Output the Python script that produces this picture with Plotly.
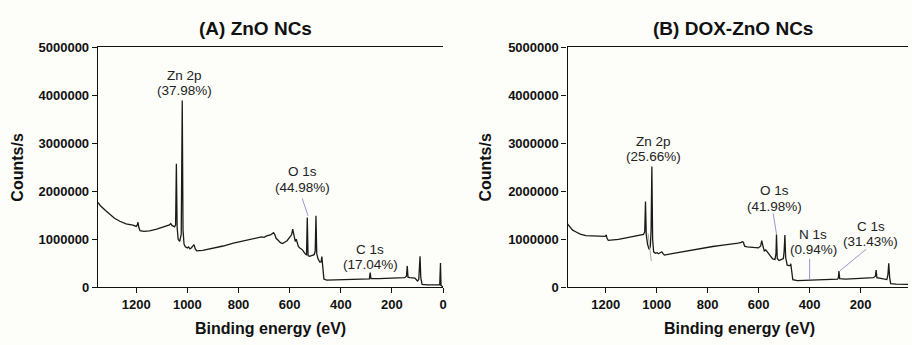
import plotly.graph_objects as go

# ---------------- data ----------------
zno_be = [1350, 1340, 1320, 1303, 1285, 1264, 1240, 1213, 1200, 1196, 1193, 1190, 1185, 1170,
          1148, 1120, 1083, 1070, 1065, 1060, 1050, 1046, 1043, 1040, 1036, 1030, 1024, 1020,
          1017, 1013, 1008, 1000, 995, 990, 985, 978, 974, 969, 963, 940, 900, 860, 820, 780,
          740, 720, 710, 700, 690, 675, 668, 663, 658, 653, 645, 636, 628, 620, 610, 600, 592,
          588, 584, 578, 574, 571, 566, 560, 550, 540, 534, 531, 528, 522, 510, 504, 500, 497,
          494, 489, 482, 477, 474, 471, 466, 455, 420, 380, 340, 300, 288, 285, 282, 250, 210,
          182, 163, 150, 143, 140, 137, 130, 110, 100, 95, 92, 90, 87, 82, 60, 40, 20, 13, 10,
          8, 4, 0]
zno_counts = [1.77e6, 1.70e6, 1.60e6, 1.52e6, 1.44e6, 1.376e6, 1.32e6, 1.296e6, 1.27e6, 1.30e6,
              1.356e6, 1.25e6, 1.18e6, 1.165e6, 1.177e6, 1.21e6, 1.27e6, 1.30e6, 1.33e6, 1.29e6,
              1.26e6, 1.30e6, 2.573e6, 1.25e6, 1.0e6, 0.957e6, 1.1e6, 3.895e6, 1.2e6, 0.9e6,
              0.844e6, 0.82e6, 0.84e6, 0.80e6, 0.82e6, 0.86e6, 0.89e6, 0.80e6, 0.758e6, 0.77e6,
              0.81e6, 0.86e6, 0.92e6, 0.97e6, 1.01e6, 1.03e6, 1.05e6, 1.04e6, 1.07e6, 1.09e6,
              1.12e6, 1.137e6, 1.10e6, 1.02e6, 0.98e6, 0.93e6, 0.91e6, 0.94e6, 0.97e6, 1.04e6,
              1.10e6, 1.21e6, 1.12e6, 0.957e6, 1.0e6, 0.93e6, 0.85e6, 0.82e6, 0.78e6, 0.70e6,
              0.67e6, 1.456e6, 0.66e6, 0.644e6, 0.66e6, 0.68e6, 0.75e6, 1.49e6, 0.70e6, 0.592e6,
              0.525e6, 0.53e6, 0.638e6, 0.40e6, 0.17e6, 0.15e6, 0.155e6, 0.16e6, 0.165e6,
              0.17e6, 0.175e6, 0.305e6, 0.18e6, 0.18e6, 0.185e6, 0.19e6, 0.195e6, 0.20e6,
              0.23e6, 0.445e6, 0.21e6, 0.20e6, 0.19e6, 0.13e6, 0.16e6, 0.40e6, 0.644e6, 0.20e6,
              0.06e6, 0.05e6, 0.045e6, 0.04e6, 0.05e6, 0.505e6, 0.04e6, 0.02e6, 0.01e6]

dox_be = [1350, 1340, 1330, 1318, 1300, 1278, 1250, 1226, 1210, 1202, 1198, 1195, 1190, 1175,
          1150, 1120, 1090, 1065, 1052, 1047, 1044, 1041, 1036, 1030, 1025, 1022, 1019, 1016,
          1012, 1005, 998, 993, 985, 980, 975, 970, 940, 900, 860, 820, 780, 740, 718, 700, 680,
          668, 664, 660, 655, 645, 630, 615, 601, 592, 588, 584, 578, 572, 565, 555, 545, 536,
          532, 530, 527, 520, 510, 503, 500, 497, 494, 488, 480, 476, 474, 471, 466, 448, 420,
          400, 360, 320, 290, 287, 285, 282, 260, 220, 180, 150, 142, 139, 136, 120, 106, 97,
          93, 89.5, 86, 82, 60, 40, 14]
dox_counts = [1.32e6, 1.25e6, 1.19e6, 1.157e6, 1.11e6, 1.077e6, 1.065e6, 1.07e6, 1.05e6, 1.06e6,
              1.09e6, 1.02e6, 0.977e6, 0.98e6, 1.0e6, 1.03e6, 1.06e6, 1.077e6, 1.10e6, 1.15e6,
              1.79e6, 1.1e6, 0.9e6, 0.79e6, 0.85e6, 1.2e6, 2.52e6, 1.0e6, 0.738e6, 0.71e6,
              0.72e6, 0.70e6, 0.72e6, 0.74e6, 0.70e6, 0.672e6, 0.70e6, 0.74e6, 0.78e6, 0.82e6,
              0.85e6, 0.88e6, 0.89e6, 0.90e6, 0.92e6, 0.937e6, 0.95e6, 0.94e6, 0.857e6, 0.84e6,
              0.83e6, 0.82e6, 0.82e6, 0.86e6, 0.97e6, 0.88e6, 0.758e6, 0.78e6, 0.72e6, 0.66e6,
              0.59e6, 0.58e6, 0.70e6, 1.10e6, 0.60e6, 0.558e6, 0.58e6, 0.60e6, 0.75e6, 1.09e6,
              0.62e6, 0.46e6, 0.45e6, 0.45e6, 0.49e6, 0.35e6, 0.16e6, 0.14e6, 0.145e6, 0.15e6,
              0.155e6, 0.16e6, 0.17e6, 0.20e6, 0.34e6, 0.18e6, 0.17e6, 0.18e6, 0.19e6, 0.20e6,
              0.23e6, 0.36e6, 0.20e6, 0.19e6, 0.18e6, 0.16e6, 0.25e6, 0.50e6, 0.20e6, 0.074e6,
              0.065e6, 0.06e6, 0.06e6]

titles = ["(A) ZnO NCs", "(B) DOX-ZnO NCs"]
x_title = "Binding energy (eV)"
y_title = "Counts/s"
y_ticks = [0, 1000000, 2000000, 3000000, 4000000, 5000000]
x_ticks = [0, 200, 400, 600, 800, 1000, 1200]

# peak labels: (panel, name, percent, x, y_name, y_pct)
peak_labels = [
    (1, "Zn 2p", "(37.98%)", 1011, 4.41e6, 4.10e6),
    (1, "O 1s", "(44.98%)", 551, 2.41e6, 2.09e6),
    (1, "C 1s", "(17.04%)", 285, 0.79e6, 0.485e6),
    (2, "Zn 2p", "(25.66%)", 1011, 3.04e6, 2.72e6),
    (2, "O 1s", "(41.98%)", 539, 2.01e6, 1.69e6),
    (2, "N 1s", "(0.94%)", 386, 1.09e6, 0.78e6),
    (2, "C 1s", "(31.43%)", 161, 1.27e6, 0.945e6),
]
# leader lines: (panel, x0, y0, x1, y1, colour)
leaders = [
    (1, 551, 1.855e6, 528, 1.49e6, "#9a97d0"),
    (2, 1034, 1.12e6, 1021, 0.544e6, "#a8a8a8"),
    (2, 543, 1.536e6, 530, 1.111e6, "#9a97d0"),
    (2, 400, 0.592e6, 400, 0.16e6, "#9a97d0"),
    (2, 178, 0.792e6, 282, 0.339e6, "#9a97d0"),
]

# ---------------- figure ----------------
FONT = "Arial, Liberation Sans, sans-serif"
BG = "#fdfdf9"
W, H = 912, 345

fig = go.Figure()
fig.add_trace(go.Scatter(x=zno_be, y=zno_counts, mode="lines",
                         line=dict(color="#1a1a1a", width=1.3), xaxis="x", yaxis="y",
                         showlegend=False, hoverinfo="skip"))
fig.add_trace(go.Scatter(x=dox_be, y=dox_counts, mode="lines",
                         line=dict(color="#1a1a1a", width=1.3), xaxis="x2", yaxis="y2",
                         showlegend=False, hoverinfo="skip"))

ydom = [1 - 293 / H, 1 - 42.3 / H]
common_x = dict(showline=True, linecolor="#111", linewidth=1.3, mirror=True,
                ticks="outside", ticklen=5, tickwidth=1.2, tickcolor="#111",
                showgrid=False, zeroline=False,
                tickfont=dict(family=FONT, size=13, color="#111", weight="bold"))
common_y = dict(showline=True, linecolor="#111", linewidth=1.3, mirror=False,
                ticks="outside", ticklen=5, tickwidth=1.2, tickcolor="#111",
                showgrid=False, zeroline=False, range=[0, 5000000],
                tickvals=y_ticks, ticktext=[str(v) for v in y_ticks], domain=ydom,
                tickfont=dict(family=FONT, size=13, color="#111", weight="bold"))

fig.update_layout(
    width=W, height=H, margin=dict(l=0, r=0, t=0, b=0),
    paper_bgcolor=BG, plot_bgcolor=BG,
    xaxis=dict(common_x, domain=[98.3 / W, 445 / W], range=[1350, 0], tickvals=x_ticks,
               anchor="y"),
    yaxis=dict(common_y, anchor="x"),
    xaxis2=dict(common_x, domain=[570 / W, 1.0], range=[1350, 14], tickvals=x_ticks,
                anchor="y2"),
    yaxis2=dict(common_y, anchor="x2"),
)

ann = []
# titles
for t, cx in zip(titles, [257, 736.5]):
    ann.append(dict(text="<b>%s</b>" % t, x=cx / W, y=1 - 23 / H, xref="paper", yref="paper",
                    showarrow=False, font=dict(family=FONT, size=19, color="#111"),
                    xanchor="center", yanchor="middle"))
for cx in [271.7, 743]:
    ann.append(dict(text="<b>%s</b>" % x_title, x=cx / W, y=1 - 336 / H, xref="paper",
                    yref="paper", showarrow=False, font=dict(family=FONT, size=16, color="#111"),
                    xanchor="center", yanchor="middle"))
for cx in [18, 488]:
    ann.append(dict(text="<b>%s</b>" % y_title, x=cx / W, y=1 - 167 / H, xref="paper",
                    yref="paper", showarrow=False, textangle=-90,
                    font=dict(family=FONT, size=16, color="#111"),
                    xanchor="center", yanchor="middle"))
for panel, name, pct, x, yn, yp in peak_labels:
    xr = "x" if panel == 1 else "x2"
    yr = "y" if panel == 1 else "y2"
    for txt, yy in [(name, yn), (pct, yp)]:
        ann.append(dict(text=txt, x=x, y=yy, xref=xr, yref=yr, showarrow=False,
                        font=dict(family=FONT, size=13.5, color="#222"),
                        xanchor="center", yanchor="middle"))
fig.update_layout(annotations=ann)

shapes = []
for panel, x0, y0, x1, y1, col in leaders:
    xr = "x" if panel == 1 else "x2"
    yr = "y" if panel == 1 else "y2"
    shapes.append(dict(type="line", xref=xr, yref=yr, x0=x0, y0=y0, x1=x1, y1=y1,
                       line=dict(color=col, width=1)))
fig.update_layout(shapes=shapes)

fig.write_html("out.html", config={"displayModeBar": False},
               post_script="document.body.style.margin='0';document.body.style.padding='0';"
                           "document.body.style.overflow='hidden';"
                           "document.body.style.background='%s';" % BG)
